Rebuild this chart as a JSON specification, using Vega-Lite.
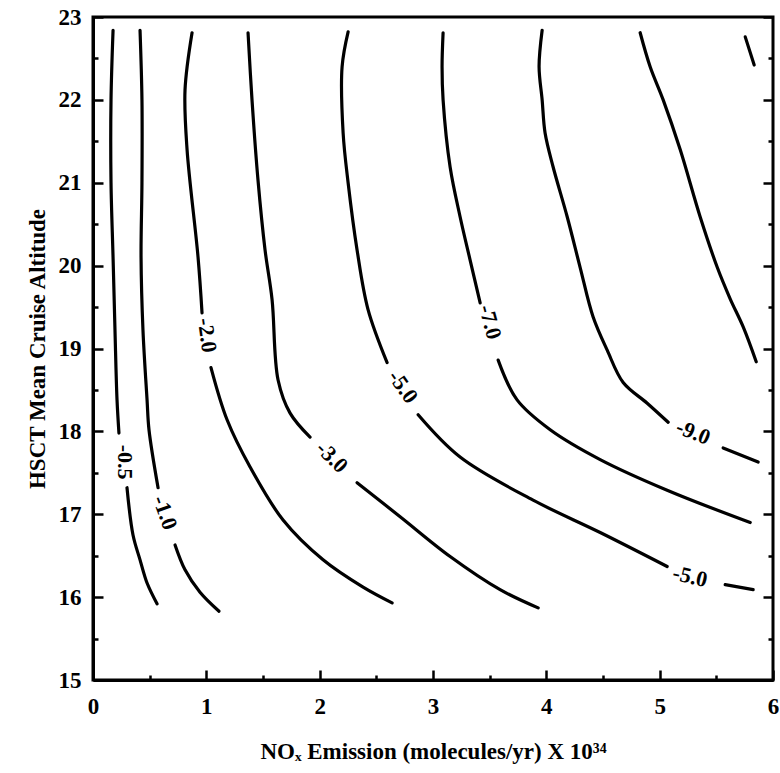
{
  "$schema": "https://vega.github.io/schema/vega-lite/v6.json",
  "width": 680,
  "height": 663,
  "autosize": {"type": "none"},
  "padding": {"left": 93, "top": 17, "right": 7, "bottom": 93},
  "background": "white",
  "config": {
    "view": {"stroke": "black", "strokeWidth": 3},
    "font": "Liberation Serif",
    "axis": {
      "domainColor": "black",
      "domainWidth": 3,
      "tickColor": "black",
      "tickWidth": 2.5,
      "grid": false,
      "labelFont": "Liberation Serif",
      "labelFontSize": 23,
      "labelFontWeight": "bold",
      "labelColor": "black",
      "titleFont": "Liberation Serif",
      "titleFontSize": 23,
      "titleFontWeight": "bold",
      "titleColor": "black",
      "labelOverlap": false,
      "labelFlush": false
    }
  },
  "datasets": {
    "lines": [
      {"seg": "A1", "i": 0, "x": 0.177, "y": 22.84},
      {"seg": "A1", "i": 1, "x": 0.159, "y": 22.0},
      {"seg": "A1", "i": 2, "x": 0.159, "y": 21.0},
      {"seg": "A1", "i": 3, "x": 0.177, "y": 20.1},
      {"seg": "A1", "i": 4, "x": 0.194, "y": 19.22},
      {"seg": "A1", "i": 5, "x": 0.212, "y": 18.38},
      {"seg": "A1", "i": 6, "x": 0.229, "y": 17.98},
      {"seg": "A2", "i": 0, "x": 0.3, "y": 17.32},
      {"seg": "A2", "i": 1, "x": 0.353, "y": 16.75},
      {"seg": "A2", "i": 2, "x": 0.415, "y": 16.45},
      {"seg": "A2", "i": 3, "x": 0.477, "y": 16.17},
      {"seg": "A2", "i": 4, "x": 0.565, "y": 15.92},
      {"seg": "B1", "i": 0, "x": 0.415, "y": 22.84},
      {"seg": "B1", "i": 1, "x": 0.432, "y": 22.0},
      {"seg": "B1", "i": 2, "x": 0.432, "y": 21.0},
      {"seg": "B1", "i": 3, "x": 0.424, "y": 20.1},
      {"seg": "B1", "i": 4, "x": 0.441, "y": 19.22},
      {"seg": "B1", "i": 5, "x": 0.477, "y": 18.38},
      {"seg": "B1", "i": 6, "x": 0.494, "y": 18.02},
      {"seg": "B1", "i": 7, "x": 0.574, "y": 17.32},
      {"seg": "B2", "i": 0, "x": 0.724, "y": 16.63},
      {"seg": "B2", "i": 1, "x": 0.812, "y": 16.33},
      {"seg": "B2", "i": 2, "x": 0.944, "y": 16.06},
      {"seg": "B2", "i": 3, "x": 1.112, "y": 15.83},
      {"seg": "C1", "i": 0, "x": 0.874, "y": 22.81},
      {"seg": "C1", "i": 1, "x": 0.812, "y": 22.12},
      {"seg": "C1", "i": 2, "x": 0.83, "y": 21.4},
      {"seg": "C1", "i": 3, "x": 0.927, "y": 20.1},
      {"seg": "C1", "i": 4, "x": 0.962, "y": 19.43},
      {"seg": "C2", "i": 0, "x": 1.041, "y": 18.77},
      {"seg": "C2", "i": 1, "x": 1.183, "y": 18.14},
      {"seg": "C2", "i": 2, "x": 1.386, "y": 17.57},
      {"seg": "C2", "i": 3, "x": 1.677, "y": 16.93},
      {"seg": "C2", "i": 4, "x": 2.03, "y": 16.45},
      {"seg": "C2", "i": 5, "x": 2.383, "y": 16.12},
      {"seg": "C2", "i": 6, "x": 2.639, "y": 15.93},
      {"seg": "D1", "i": 0, "x": 1.368, "y": 22.81},
      {"seg": "D1", "i": 1, "x": 1.403, "y": 22.0},
      {"seg": "D1", "i": 2, "x": 1.456, "y": 21.03},
      {"seg": "D1", "i": 3, "x": 1.518, "y": 20.19},
      {"seg": "D1", "i": 4, "x": 1.58, "y": 19.59},
      {"seg": "D1", "i": 5, "x": 1.633, "y": 18.62},
      {"seg": "D1", "i": 6, "x": 1.739, "y": 18.22},
      {"seg": "D1", "i": 7, "x": 1.915, "y": 17.93},
      {"seg": "D2", "i": 0, "x": 2.33, "y": 17.38},
      {"seg": "D2", "i": 1, "x": 2.71, "y": 16.97},
      {"seg": "D2", "i": 2, "x": 3.151, "y": 16.49},
      {"seg": "D2", "i": 3, "x": 3.592, "y": 16.09},
      {"seg": "D2", "i": 4, "x": 3.928, "y": 15.87},
      {"seg": "E1", "i": 0, "x": 2.251, "y": 22.82},
      {"seg": "E1", "i": 1, "x": 2.198, "y": 22.4},
      {"seg": "E1", "i": 2, "x": 2.207, "y": 21.6},
      {"seg": "E1", "i": 3, "x": 2.251, "y": 21.0},
      {"seg": "E1", "i": 4, "x": 2.33, "y": 20.19},
      {"seg": "E1", "i": 5, "x": 2.427, "y": 19.47},
      {"seg": "E1", "i": 6, "x": 2.595, "y": 18.83},
      {"seg": "E2", "i": 0, "x": 2.869, "y": 18.2},
      {"seg": "E2", "i": 1, "x": 3.239, "y": 17.69},
      {"seg": "E2", "i": 2, "x": 3.883, "y": 17.17},
      {"seg": "E2", "i": 3, "x": 4.475, "y": 16.78},
      {"seg": "E2", "i": 4, "x": 5.066, "y": 16.37},
      {"seg": "E3", "i": 0, "x": 5.578, "y": 16.15},
      {"seg": "E3", "i": 1, "x": 5.825, "y": 16.09},
      {"seg": "F1", "i": 0, "x": 3.089, "y": 22.81},
      {"seg": "F1", "i": 1, "x": 3.08, "y": 22.4},
      {"seg": "F1", "i": 2, "x": 3.089, "y": 22.0},
      {"seg": "F1", "i": 3, "x": 3.151, "y": 21.19},
      {"seg": "F1", "i": 4, "x": 3.239, "y": 20.59},
      {"seg": "F1", "i": 5, "x": 3.327, "y": 20.07},
      {"seg": "F1", "i": 6, "x": 3.416, "y": 19.55},
      {"seg": "F2", "i": 0, "x": 3.575, "y": 18.86},
      {"seg": "F2", "i": 1, "x": 3.742, "y": 18.38},
      {"seg": "F2", "i": 2, "x": 4.034, "y": 18.02},
      {"seg": "F2", "i": 3, "x": 4.475, "y": 17.66},
      {"seg": "F2", "i": 4, "x": 5.066, "y": 17.29},
      {"seg": "F2", "i": 5, "x": 5.799, "y": 16.9},
      {"seg": "G1", "i": 0, "x": 3.963, "y": 22.84},
      {"seg": "G1", "i": 1, "x": 3.936, "y": 22.4},
      {"seg": "G1", "i": 2, "x": 3.963, "y": 22.0},
      {"seg": "G1", "i": 3, "x": 3.989, "y": 21.6},
      {"seg": "G1", "i": 4, "x": 4.06, "y": 21.19},
      {"seg": "G1", "i": 5, "x": 4.184, "y": 20.59},
      {"seg": "G1", "i": 6, "x": 4.298, "y": 19.98},
      {"seg": "G1", "i": 7, "x": 4.413, "y": 19.38},
      {"seg": "G1", "i": 8, "x": 4.537, "y": 18.98},
      {"seg": "G1", "i": 9, "x": 4.678, "y": 18.59},
      {"seg": "G1", "i": 10, "x": 4.89, "y": 18.34},
      {"seg": "G1", "i": 11, "x": 5.075, "y": 18.11},
      {"seg": "G2", "i": 0, "x": 5.56, "y": 17.8},
      {"seg": "G2", "i": 1, "x": 5.869, "y": 17.63},
      {"seg": "H1", "i": 0, "x": 4.828, "y": 22.81},
      {"seg": "H1", "i": 1, "x": 4.916, "y": 22.4},
      {"seg": "H1", "i": 2, "x": 5.031, "y": 22.0},
      {"seg": "H1", "i": 3, "x": 5.181, "y": 21.4},
      {"seg": "H1", "i": 4, "x": 5.357, "y": 20.59},
      {"seg": "H1", "i": 5, "x": 5.508, "y": 19.98},
      {"seg": "H1", "i": 6, "x": 5.622, "y": 19.6},
      {"seg": "H1", "i": 7, "x": 5.737, "y": 19.26},
      {"seg": "H1", "i": 8, "x": 5.852, "y": 18.84},
      {"seg": "I1", "i": 0, "x": 5.755, "y": 22.76},
      {"seg": "I1", "i": 1, "x": 5.834, "y": 22.42}
    ],
    "labels": [
      {"id": "L05", "t": "-0.5", "x": 0.282, "y": 17.63},
      {"id": "L10", "t": "-1.0", "x": 0.635, "y": 17.02},
      {"id": "L20", "t": "-2.0", "x": 1.006, "y": 19.16},
      {"id": "L30", "t": "-3.0", "x": 2.109, "y": 17.69},
      {"id": "L50a", "t": "-5.0", "x": 2.736, "y": 18.54},
      {"id": "L70", "t": "-7.0", "x": 3.504, "y": 19.32},
      {"id": "L90", "t": "-9.0", "x": 5.296, "y": 17.99},
      {"id": "L50b", "t": "-5.0", "x": 5.269, "y": 16.25}
    ]
  },
  "resolve": {"axis": {"y": "independent"}},
  "layer": [
    {
      "data": {"name": "lines"},
      "mark": {"type": "line", "color": "black", "strokeWidth": 3.2, "strokeCap": "round", "interpolate": "catmull-rom"},
      "encoding": {
        "x": {
          "field": "x", "type": "quantitative",
          "scale": {"domain": [0, 6], "nice": false, "zero": false},
          "axis": {
            "title": "NOₓ  Emission (molecules/yr) X 10³⁴",
            "values": [0, 0.5, 1, 1.5, 2, 2.5, 3, 3.5, 4, 4.5, 5, 5.5, 6],
            "labelExpr": "datum.value % 1 === 0 ? format(datum.value, 'd') : ''",
            "tickSize": {"condition": {"test": "datum.value % 1 === 0", "value": -10}, "value": -5},
            "labelPadding": 25,
            "titlePadding": 17
          }
        },
        "y": {
          "field": "y", "type": "quantitative",
          "scale": {"domain": [15, 23], "nice": false, "zero": false},
          "axis": {
            "orient": "left",
            "title": "HSCT Mean Cruise Altitude",
            "values": [15, 15.5, 16, 16.5, 17, 17.5, 18, 18.5, 19, 19.5, 20, 20.5, 21, 21.5, 22, 22.5, 23],
            "labelExpr": "datum.value % 1 === 0 ? format(datum.value, 'd') : ''",
            "tickSize": {"condition": {"test": "datum.value % 1 === 0", "value": -10}, "value": -5},
            "labelPadding": 22,
            "titlePadding": 9
          }
        },
        "detail": {"field": "seg"},
        "order": {"field": "i"}
      }
    },
    {
      "data": {"name": "labels"},
      "transform": [{"filter": "datum.id === 'L05'"}],
      "mark": {"type": "text", "angle": 90, "fontSize": 22, "fontWeight": "bold", "font": "Liberation Serif", "color": "black"},
      "encoding": {
        "x": {"field": "x", "type": "quantitative"},
        "y": {"field": "y", "type": "quantitative", "axis": {"orient": "right", "title": null, "labels": false, "domain": false,
          "values": [15, 15.5, 16, 16.5, 17, 17.5, 18, 18.5, 19, 19.5, 20, 20.5, 21, 21.5, 22, 22.5, 23],
          "tickSize": {"condition": {"test": "datum.value % 1 === 0", "value": -10}, "value": -5}}},
        "text": {"field": "t"}
      }
    },
    {
      "data": {"name": "labels"},
      "transform": [{"filter": "datum.id === 'L10'"}],
      "mark": {"type": "text", "angle": 70, "fontSize": 22, "fontWeight": "bold", "font": "Liberation Serif", "color": "black"},
      "encoding": {
        "x": {"field": "x", "type": "quantitative"},
        "y": {"field": "y", "type": "quantitative", "axis": null},
        "text": {"field": "t"}
      }
    },
    {
      "data": {"name": "labels"},
      "transform": [{"filter": "datum.id === 'L20'"}],
      "mark": {"type": "text", "angle": 82, "fontSize": 22, "fontWeight": "bold", "font": "Liberation Serif", "color": "black"},
      "encoding": {
        "x": {"field": "x", "type": "quantitative"},
        "y": {"field": "y", "type": "quantitative", "axis": null},
        "text": {"field": "t"}
      }
    },
    {
      "data": {"name": "labels"},
      "transform": [{"filter": "datum.id === 'L30'"}],
      "mark": {"type": "text", "angle": 45, "fontSize": 22, "fontWeight": "bold", "font": "Liberation Serif", "color": "black"},
      "encoding": {
        "x": {"field": "x", "type": "quantitative"},
        "y": {"field": "y", "type": "quantitative", "axis": null},
        "text": {"field": "t"}
      }
    },
    {
      "data": {"name": "labels"},
      "transform": [{"filter": "datum.id === 'L50a'"}],
      "mark": {"type": "text", "angle": 55, "fontSize": 22, "fontWeight": "bold", "font": "Liberation Serif", "color": "black"},
      "encoding": {
        "x": {"field": "x", "type": "quantitative"},
        "y": {"field": "y", "type": "quantitative", "axis": null},
        "text": {"field": "t"}
      }
    },
    {
      "data": {"name": "labels"},
      "transform": [{"filter": "datum.id === 'L70'"}],
      "mark": {"type": "text", "angle": 75, "fontSize": 22, "fontWeight": "bold", "font": "Liberation Serif", "color": "black"},
      "encoding": {
        "x": {"field": "x", "type": "quantitative"},
        "y": {"field": "y", "type": "quantitative", "axis": null},
        "text": {"field": "t"}
      }
    },
    {
      "data": {"name": "labels"},
      "transform": [{"filter": "datum.id === 'L90'"}],
      "mark": {"type": "text", "angle": 22, "fontSize": 22, "fontWeight": "bold", "font": "Liberation Serif", "color": "black"},
      "encoding": {
        "x": {"field": "x", "type": "quantitative"},
        "y": {"field": "y", "type": "quantitative", "axis": null},
        "text": {"field": "t"}
      }
    },
    {
      "data": {"name": "labels"},
      "transform": [{"filter": "datum.id === 'L50b'"}],
      "mark": {"type": "text", "angle": 13, "fontSize": 22, "fontWeight": "bold", "font": "Liberation Serif", "color": "black"},
      "encoding": {
        "x": {"field": "x", "type": "quantitative"},
        "y": {"field": "y", "type": "quantitative", "axis": null},
        "text": {"field": "t"}
      }
    }
  ]
}
